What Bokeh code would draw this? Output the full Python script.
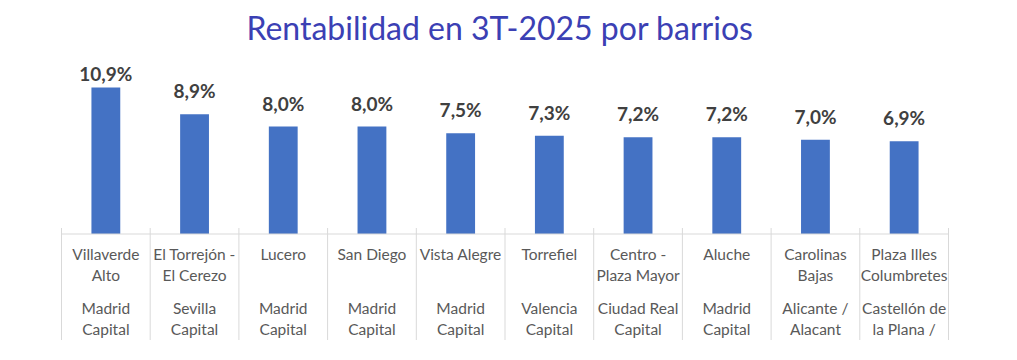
from bokeh.plotting import figure
from bokeh.models import Range1d, Label
from bokeh.core.properties import value
from bokeh.embed import file_html
from bokeh.resources import INLINE

title_text = "Rentabilidad en 3T-2025 por barrios"
barrios = ["Villaverde\nAlto", "El Torrejón -\nEl Cerezo", "Lucero", "San Diego", "Vista Alegre",
           "Torrefiel", "Centro -\nPlaza Mayor", "Aluche", "Carolinas\nBajas", "Plaza Illes\nColumbretes"]
ciudades = ["Madrid\nCapital", "Sevilla\nCapital", "Madrid\nCapital", "Madrid\nCapital", "Madrid\nCapital",
            "Valencia\nCapital", "Ciudad Real\nCapital", "Madrid\nCapital", "Alicante /\nAlacant",
            "Castellón de\nla Plana /"]
rentabilidad = [10.9, 8.9, 8.0, 8.0, 7.5, 7.3, 7.2, 7.2, 7.0, 6.9]

W, H = 1010, 355
PX_CAT = 88.7          # pixels per category
FIRST_CENTER = 105.35  # canvas x of first category center
PX_UNIT = 13.45        # pixels per 1 percentage point
BASE = 233.5           # canvas y of baseline

x_start = -FIRST_CENTER / PX_CAT
x_end = x_start + W / PX_CAT
y_top = BASE / PX_UNIT
y_bot = -(H - BASE) / PX_UNIT

p = figure(width=W, height=H, output_backend="svg", toolbar_location=None,
           x_range=Range1d(x_start, x_end), y_range=Range1d(y_bot, y_top),
           min_border=0, outline_line_color=None, background_fill_color="white")
p.xaxis.visible = False
p.yaxis.visible = False
p.xgrid.visible = False
p.ygrid.visible = False

n = len(rentabilidad)
idx = list(range(n))

# bars
p.vbar(x=idx, top=rentabilidad, bottom=0, width=0.325, fill_color="#4472c4", line_color=None)

# axis line and separators
axis_col = "#d9d9d9"
p.segment(x0=[-0.5], x1=[n - 0.5], y0=[0], y1=[0], line_color=axis_col, line_width=1)
seps = [i - 0.5 for i in range(n + 1)]
p.segment(x0=seps, x1=seps, y0=[6 / PX_UNIT] * len(seps), y1=[-106 / PX_UNIT] * len(seps),
          line_color=axis_col, line_width=1)

# value labels
label_cap = (BASE - 72.7) / PX_UNIT
label_y = [min(v + 23.3 / PX_UNIT, label_cap) for v in rentabilidad]
labels = [f"{v:.1f}".replace(".", ",") + "%" for v in rentabilidad]
p.text(x=idx, y=label_y, text=labels, text_align="center", text_baseline="alphabetic",
       text_font=value("Lato"), text_font_style="bold", text_font_size="19px", text_color="#404040")

# category labels
def split2(lst):
    a, b = [], []
    for s in lst:
        parts = s.split("\n")
        a.append(parts[0])
        b.append(parts[1] if len(parts) > 1 else "")
    return a, b

b1, b2 = split2(barrios)
c1, c2 = split2(ciudades)
for texts, off in [(b1, 19.5), (b2, 40.5), (c1, 74.0), (c2, 95.0)]:
    p.text(x=idx, y=[0] * n, text=texts, y_offset=off, text_align="center", text_baseline="middle",
           text_font=value("Lato"), text_font_size="15.5px", text_color="#595959")

# title
p.add_layout(Label(x=499.5, y=H - 27, x_units="screen", y_units="screen", text=title_text,
                   text_align="center", text_baseline="alphabetic", text_font="Lato",
                   text_font_size="32px", text_color="#3b40b4"))

open("out.html", "w").write(file_html(p, INLINE))
